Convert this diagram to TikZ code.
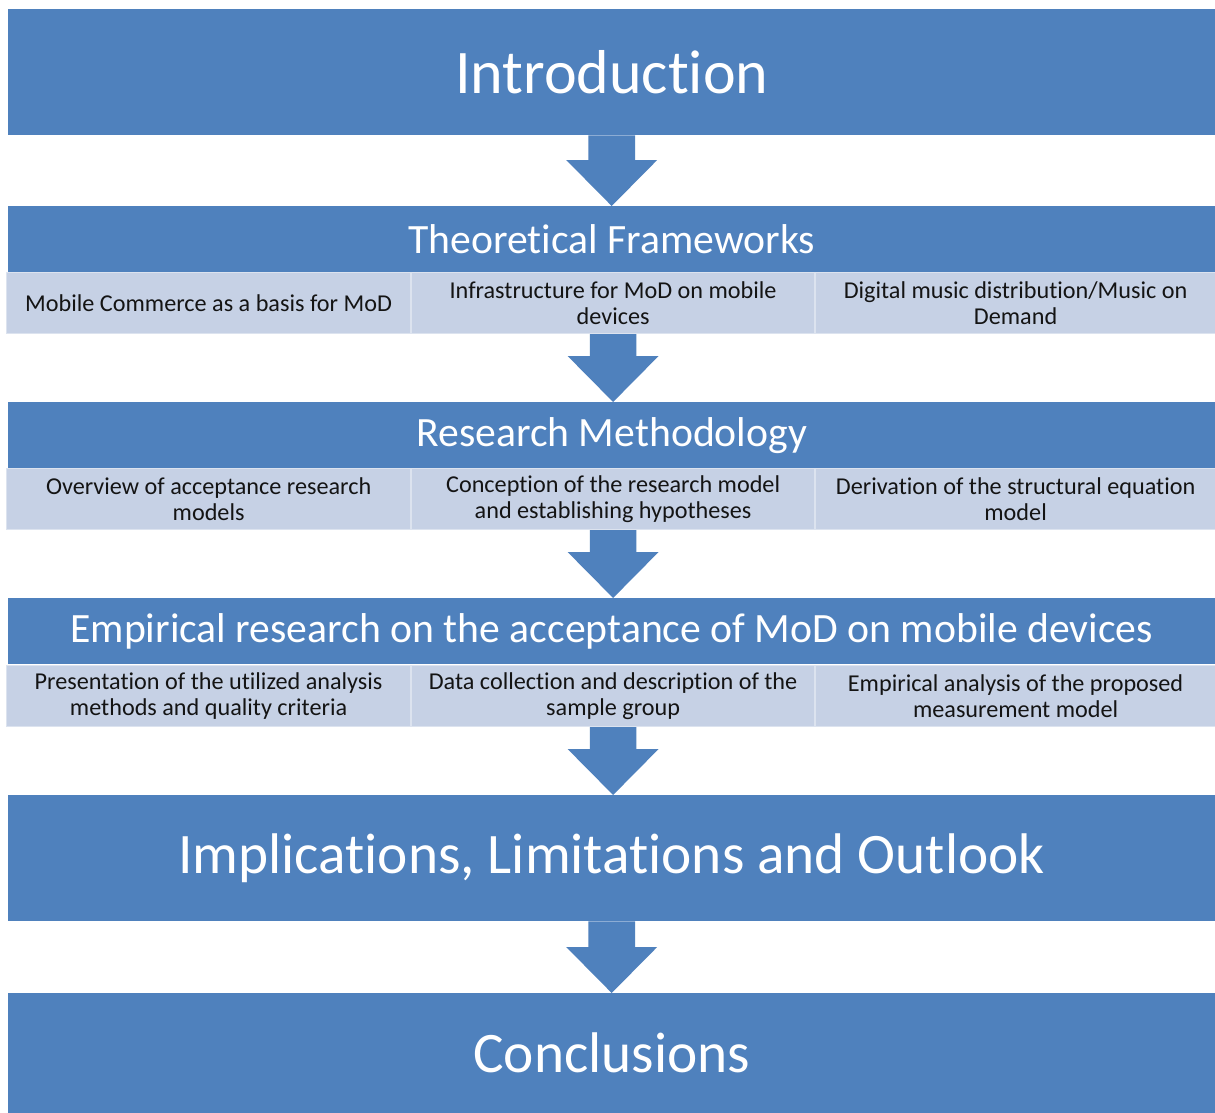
\documentclass[tikz,border=0pt]{standalone}
\usepackage{fontspec}
\setmainfont{Carlito}[Ligatures={NoCommon,NoRequired}, Contextuals=NoAlternate]
\usetikzlibrary{calc}
\definecolor{mainblue}{HTML}{4F81BD}
\definecolor{subfill}{HTML}{C6D1E5}
\definecolor{subedge}{HTML}{DCE3EF}
\newcommand\tI{t\kern0pt i}
\newcommand\flowarrow[2]{%
  \fill[mainblue] let \p1=(#1.south), \p2=(#2.north) in
    (\x1-23.3pt,\y1) -- (\x1+23.3pt,\y1) -- (\x1+23.3pt,\y2+46pt) -- (\x1+45.5pt,\y2+46pt)
    -- (\x1,\y2) -- (\x1-45.5pt,\y2+46pt) -- (\x1-23.3pt,\y2+46pt) -- cycle;}
\begin{document}
\begin{tikzpicture}[x=1pt,y=-1pt,
  bigbox/.style={fill=mainblue, text=white, inner sep=0pt, anchor=north west,
    minimum width=1207pt, font=\fontsize{57.3}{66}\selectfont},
  headbox/.style={fill=mainblue, text=white, inner sep=0pt, anchor=north west,
    minimum width=1207pt, minimum height=66pt, font=\fontsize{41.7}{48}\selectfont},
  subbox/.style={fill=subfill, draw=subedge, line width=1.2pt, inner sep=0pt,
    anchor=north west, minimum height=61pt, align=center, text=black!92,
    font=\fontsize{24.2}{26.5}\selectfont}]
\useasboundingbox[fill=white] (0,0) rectangle (1215,1113);

\node[bigbox, minimum height=126pt, font=\fontsize{62}{70}\selectfont] (intro) at (8,9) {Introduc\tI on};

\node[headbox] (tf) at (8,206) {Theore\tI cal Frameworks};
\node[subbox, minimum width=404pt] (tf1) at (6,272) {Mobile Commerce as a basis for MoD};
\node[subbox, minimum width=403pt] (tf2) at (411,272) {Infrastructure for MoD on mobile\\devices};
\node[subbox, minimum width=400pt] (tf3) at (815,272) {Digital music distribu\tI on/Music on\\Demand};

\node[headbox] (rm) at (8,402) {Research Methodology};
\node[subbox, minimum width=404pt] (rm1) at (6,468) {Overview of acceptance research\\models};
\node[subbox, minimum width=403pt] (rm2) at (411,468) {Concep\tI on of the research model\\and establishing hypotheses};
\node[subbox, minimum width=400pt] (rm3) at (815,468) {Deriva\tI on of the structural equa\tI on\\model};

\node[headbox] (er) at (8,598) {Empirical research on the acceptance of MoD on mobile devices};
\node[subbox, minimum width=404pt] (er1) at (6,665) {Presenta\tI on of the u\tI lized analysis\\methods and quality criteria};
\node[subbox, minimum width=403pt] (er2) at (411,665) {Data collec\tI on and descrip\tI on of the\\sample group};
\node[subbox, minimum width=400pt] (er3) at (815,665) {Empirical analysis of the proposed\\measurement model};

\node[bigbox, minimum height=126pt] (impl) at (8,795) {Implica\tI ons, Limita\tI ons and Outlook};
\node[bigbox, minimum height=120pt] (concl) at (8,993) {Conclusions};

\flowarrow{intro}{tf}
\flowarrow{tf2}{rm}
\flowarrow{rm2}{er}
\flowarrow{er2}{impl}
\flowarrow{impl}{concl}
\end{tikzpicture}
\end{document}
